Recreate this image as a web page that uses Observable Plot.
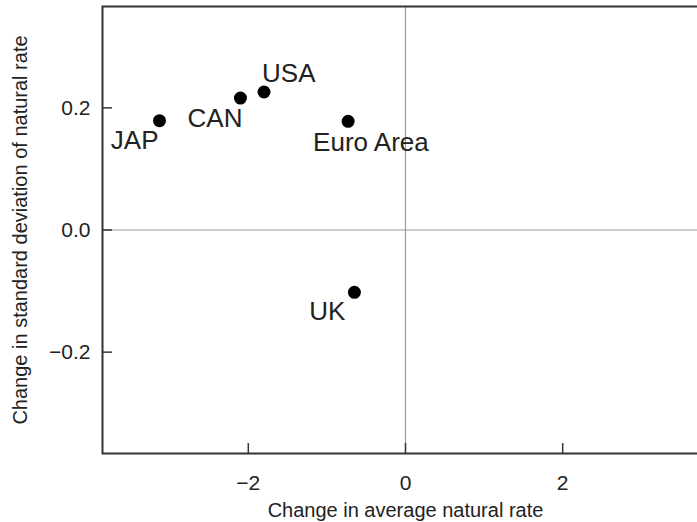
<!DOCTYPE html>
<html><head><meta charset="utf-8">
<script src="https://cdn.jsdelivr.net/npm/d3@7"></script>
<script src="https://cdn.jsdelivr.net/npm/@observablehq/plot@0.6"></script>
<style>
html,body{margin:0;padding:0;background:#fff;overflow:hidden;width:697px;height:522px;}
#chart svg{display:block;max-width:none;}
</style></head><body><div id="chart"></div>
<script>
// Data
const countries = ["JAP", "CAN", "USA", "Euro Area", "UK"];
const avgChange = [-3.13, -2.10, -1.80, -0.73, -0.65];   // Change in average natural rate
const sdChange  = [0.179, 0.216, 0.226, 0.178, -0.102];  // Change in standard deviation of natural rate
const xTicks = [-2, 0, 2];
const yTicks = [-0.2, 0, 0.2];
const xDomain = [-3.855, 3.855];
const yDomain = [-0.366, 0.366];
const zeroLine = [0];
const xTitle = "Change in average natural rate";
const yTitle = "Change in standard deviation of natural rate";

const data = countries.map((c, i) => ({country: c, avg: avgChange[i], sd: sdChange[i]}));

const ink = "#222";
const labelPlacement = {
  "JAP":       {textAnchor: "end",   dx: -1,  dy: 19.5},
  "CAN":       {textAnchor: "end",   dx: 2,   dy: 21},
  "USA":       {textAnchor: "start", dx: -2,  dy: -18},
  "Euro Area": {textAnchor: "start", dx: -35, dy: 21},
  "UK":        {textAnchor: "end",   dx: -9,  dy: 19}
};
const labelMarks = countries.map(c => Plot.text(data.filter(d => d.country === c), {
  x: "avg", y: "sd", text: "country", fontSize: 26, fill: ink, lineAnchor: "middle",
  ...labelPlacement[c]
}));

const chart = Plot.plot({
  width: 712, height: 522,
  marginLeft: 102, marginRight: 4, marginTop: 6, marginBottom: 69,
  style: {fontFamily: "'Liberation Sans', Arial, sans-serif", color: ink, background: "#fff"},
  x: {domain: xDomain},
  y: {domain: yDomain},
  marks: [
    Plot.ruleX(zeroLine, {stroke: "#999", strokeWidth: 1.2}),
    Plot.ruleY(zeroLine, {stroke: "#999", strokeWidth: 1.2}),
    Plot.axisX({ticks: xTicks, tickSize: -10, tickFormat: () => "", label: null, stroke: "#333", strokeWidth: 1.5}),
    Plot.axisX({ticks: xTicks, tickSize: 0, tickPadding: 22, fontSize: 21, label: null, fill: ink}),
    Plot.axisY({ticks: yTicks, tickSize: -10, tickFormat: () => "", label: null, stroke: "#333", strokeWidth: 1.5}),
    Plot.axisY({ticks: yTicks, tickSize: 0, tickPadding: 12, fontSize: 21, label: null, fill: ink}),
    Plot.frame({stroke: "#333", strokeWidth: 2}),
    Plot.dot(data, {x: "avg", y: "sd", r: 6.5, fill: "#000"}),
    ...labelMarks,
    Plot.text([xTitle], {text: d => d, frameAnchor: "bottom", dy: 57, fontSize: 20, textAnchor: "middle", lineAnchor: "middle", fill: ink}),
    Plot.text([yTitle], {text: d => d, frameAnchor: "left", dx: -82, rotate: -90, fontSize: 20, textAnchor: "middle", lineAnchor: "middle", fill: ink})
  ]
});
document.getElementById("chart").append(chart);
</script>
</body></html>
